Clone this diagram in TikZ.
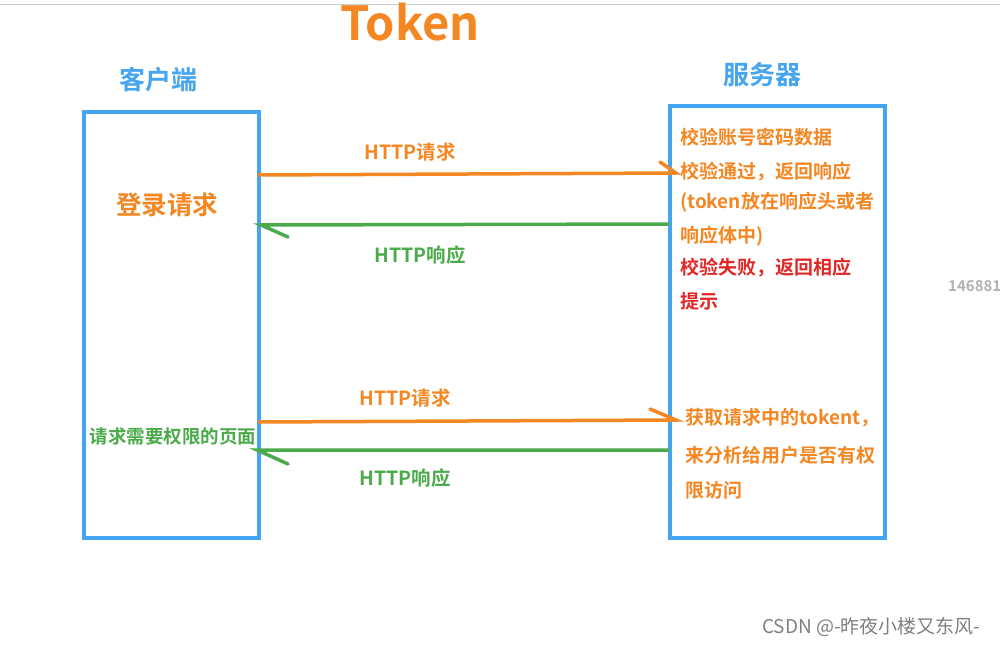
\documentclass[tikz,border=0pt]{standalone}
\usepackage{fontspec}
\setmainfont{Noto Sans CJK SC}[BoldFont={Noto Sans CJK SC Bold}]
\definecolor{bl}{RGB}{70,165,240}
\definecolor{og}{RGB}{245,135,35}
\definecolor{gn}{RGB}{75,170,75}
\definecolor{rd}{RGB}{225,40,40}
\begin{document}
\begin{tikzpicture}[x=1pt,y=-1pt,
  box/.style={draw=bl,line width=4pt},
  ln/.style={line width=3.5pt,line cap=round},
  t/.style={inner sep=0pt,font=\bfseries\fontsize{19.5}{22}\selectfont},
  r/.style={t,anchor=west,font=\bfseries\fontsize{19}{22}\selectfont}]
\useasboundingbox[fill=white] (0,0) rectangle (1000,647);
\draw[gray!40,line width=1pt] (0,5) -- (1000,5);
\node[t,og,font=\bfseries\fontsize{47}{50}\selectfont] (title) at (410,22) {Token};
\node[t,bl,font=\bfseries\fontsize{26}{28}\selectfont] (cl) at (158,80) {客户端};
\node[t,bl,font=\bfseries\fontsize{26}{28}\selectfont] (sv) at (762,75) {服务器};
\draw[box] (84,112) rectangle (259,538);
\draw[box] (670,106) rectangle (885,538);
\coordinate (a1s) at (259,175); \coordinate (a1e) at (676,173); \coordinate (a1h) at (660,162);
\draw[ln,og] (a1s) -- (a1e) -- (a1h);
\node[t,og] (l1) at (410,152) {HTTP请求};
\coordinate (a2s) at (668,224); \coordinate (a2e) at (261,225); \coordinate (a2h) at (288,237);
\draw[ln,gn] (a2s) -- (a2e) -- (a2h);
\node[t,gn] (l2) at (420,255) {HTTP响应};
\node[t,og,font=\bfseries\fontsize{25.5}{28}\selectfont] (login) at (167,205) {登录请求};
\node[r,og] (s1) at (680,137) {校验账号密码数据};
\node[r,og] (s2) at (680,172) {校验通过，返回响应};
\node[r,og] (s3) at (680,202) {(token放在响应头或者};
\node[r,og] (s4) at (680,236) {响应体中)};
\node[r,rd] (s5) at (680,268) {校验失败，返回相应};
\node[r,rd] (s6) at (680,301) {提示};
\coordinate (a3s) at (259,422); \coordinate (a3e) at (676,420); \coordinate (a3h) at (650,409);
\draw[ln,og] (a3s) -- (a3e) -- (a3h);
\node[t,og] (l3) at (405,398) {HTTP请求};
\coordinate (a4s) at (668,450); \coordinate (a4e) at (257,450); \coordinate (a4h) at (288,464);
\draw[ln,gn] (a4s) -- (a4e) -- (a4h);
\node[t,gn] (l4) at (405,478) {HTTP响应};
\node[t,gn,font=\bfseries\fontsize{18.5}{20}\selectfont] (page) at (173,436) {请求需要权限的页面};
\node[r,og] (p1) at (685,418) {获取请求中的tokent，};
\node[r,og] (p2) at (685,455) {来分析给用户是否有权};
\node[r,og] (p3) at (685,490) {限访问};
\node[r,gray!60,font=\bfseries\fontsize{15}{16}\selectfont] (num) at (948,286) {146881};
\node[r,gray,font=\fontsize{19}{20}\selectfont] (wm) at (762,627) {CSDN @-昨夜小楼又东风-};
\end{tikzpicture}
\end{document}
